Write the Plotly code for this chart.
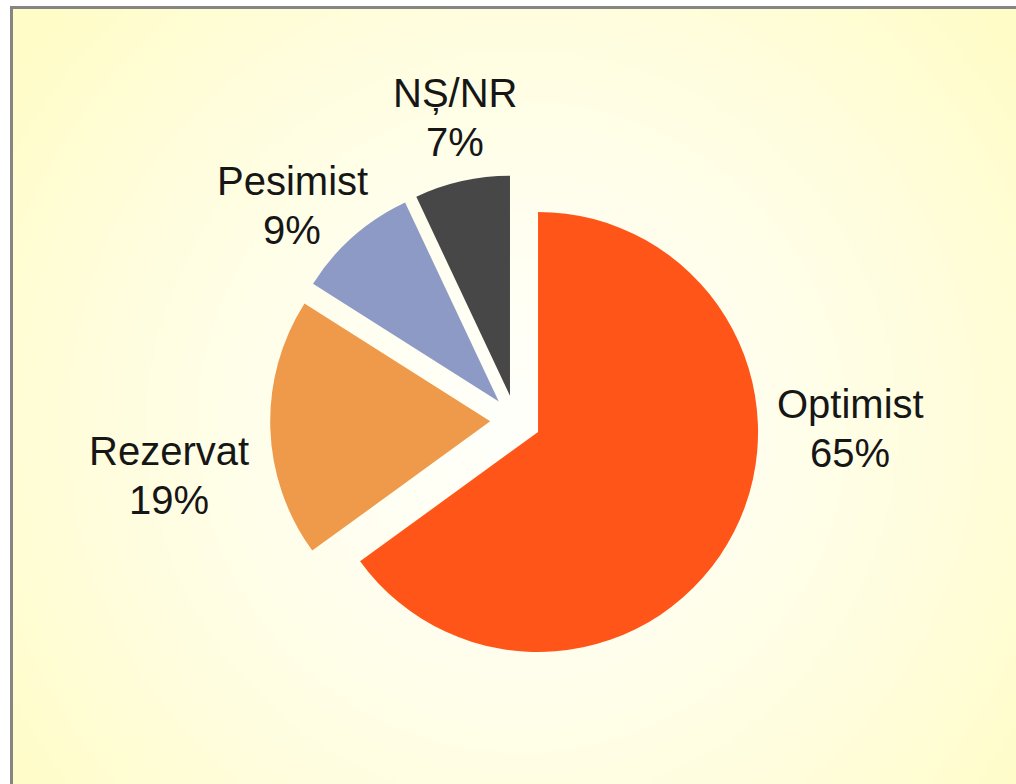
import base64
import math
import struct
import zlib

import plotly.graph_objects as go

# ---- data ----
categories = ["Optimist", "Rezervat", "Pesimist", "NȘ/NR"]
values = [65, 19, 9, 7]
colors = ["#FF5518", "#EE9A4A", "#8C9AC5", "#474747"]

# label anchor positions (pixels from top-left of the page): centre of the two-line block
label_pos = [(850, 428), (169, 475), (292, 205), (455, 117)]

W, H = 1016, 784
FONT_SIZE = 40
LINE_GAP = 49


def gradient_png(w, h, cx, cy, rmax):
    rows = []
    for j in range(h):
        row = bytearray([0])
        for i in range(w):
            d = math.hypot(i - cx, j - cy) / rmax
            t = min(1.0, d) ** 1.4
            r = 255
            g = round(255 - 3 * t)
            b = round(250 - 50 * t)
            row += bytes((r, g, b))
        rows.append(bytes(row))
    raw = b"".join(rows)

    def chunk(tag, data):
        c = struct.pack(">I", len(data)) + tag + data
        return c + struct.pack(">I", zlib.crc32(tag + data) & 0xFFFFFFFF)

    png = b"\x89PNG\r\n\x1a\n"
    png += chunk(b"IHDR", struct.pack(">IIBBBBB", w, h, 8, 2, 0, 0, 0))
    png += chunk(b"IDAT", zlib.compress(raw, 9))
    png += chunk(b"IEND", b"")
    return "data:image/png;base64," + base64.b64encode(png).decode()


# background image scaled 1/4
sc = 4
bx0, by0 = 12, 8
img = gradient_png((W - bx0) // sc, (H - by0) // sc,
                   (520 - bx0) / sc, (425 - by0) / sc, 620 / sc)

# pie geometry
cx, cy = 515.5, 420.5
r = 220
pull = 0.115
half = r * (1 + pull)

fig = go.Figure(
    go.Pie(
        labels=categories,
        values=values,
        marker=dict(colors=colors, line=dict(width=0)),
        sort=False,
        direction="clockwise",
        rotation=0,
        pull=[pull] * len(values),
        textinfo="none",
        hoverinfo="label+percent",
        showlegend=False,
        domain=dict(
            x=[(cx - half) / W, (cx + half) / W],
            y=[1 - (cy + half) / H, 1 - (cy - half) / H],
        ),
    )
)

annotations = []
for lab, val, (px, py) in zip(categories, values, label_pos):
    for txt, yy in ((lab, py - LINE_GAP / 2), (f"{val}%", py + LINE_GAP / 2)):
        annotations.append(
            dict(
                text=txt,
                x=px / W,
                y=1 - yy / H,
                xref="paper",
                yref="paper",
                xanchor="center",
                yanchor="middle",
                showarrow=False,
                align="center",
                font=dict(family="Liberation Sans, Arial, sans-serif",
                          size=FONT_SIZE, color="#161616"),
            )
        )

fig.update_layout(
    width=W,
    height=H,
    margin=dict(l=0, r=0, t=0, b=0),
    paper_bgcolor="white",
    plot_bgcolor="white",
    annotations=annotations,
    images=[
        dict(
            source=img,
            xref="paper",
            yref="paper",
            x=bx0 / W,
            y=1 - by0 / H,
            sizex=(W - bx0) / W,
            sizey=(H - by0) / H,
            xanchor="left",
            yanchor="top",
            sizing="stretch",
            layer="below",
        )
    ],
    shapes=[
        dict(
            type="rect",
            xref="paper",
            yref="paper",
            x0=(bx0 - 0.5) / W,
            x1=1.05,
            y0=1 - (by0 - 0.5) / H,
            y1=-0.05,
            line=dict(color="#858585", width=3),
            fillcolor="rgba(0,0,0,0)",
            layer="above",
        )
    ],
)

fig.write_html(
    "out.html",
    config={"displayModeBar": False},
    post_script=(
        "document.body.style.margin='0';"
        "document.body.style.overflow='hidden';"
        "document.documentElement.style.overflow='hidden';"
    ),
)
